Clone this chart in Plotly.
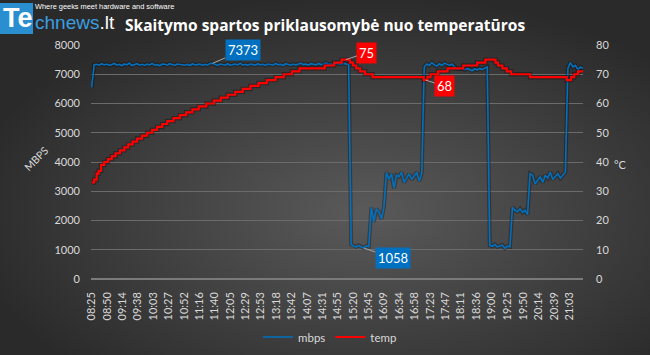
import base64
import plotly.graph_objects as go

# ---------------- data ----------------
tick_labels = ["08:25", "08:50", "09:14", "09:38", "10:03", "10:27", "10:52", "11:16",
               "11:40", "12:05", "12:29", "12:53", "13:18", "13:42", "14:07", "14:31",
               "14:55", "15:20", "15:45", "16:09", "16:34", "16:58", "17:23", "17:47",
               "18:11", "18:36", "19:00", "19:25", "19:50", "20:14", "20:39", "21:03"]

START_MIN = 8 * 60 + 25      # 08:25
SAMPLE_STEP = 4              # minutes between mbps samples

mbps_values = [
    6550, 7330,
    7340, 7310, 7360, 7320, 7350, 7300, 7330, 7370, 7310, 7340,
    7290, 7350, 7320, 7380, 7300, 7330, 7360, 7310, 7340, 7300,
    7350, 7320, 7370, 7310, 7330, 7290, 7350, 7340, 7310, 7360,
    7320, 7300, 7350, 7330, 7330, 7310, 7340, 7300, 7360, 7320,
    7330, 7350, 7300, 7340, 7310, 7370, 7373, 7330, 7300, 7350,
    7340, 7310, 7360, 7300, 7330, 7350, 7320, 7380, 7310, 7340,
    7300, 7350, 7330, 7310, 7360, 7320, 7340, 7300, 7350, 7330,
    7310, 7370, 7320, 7340, 7300, 7360, 7330, 7310, 7350, 7320,
    7340, 7380, 7330, 7350, 7310, 7360, 7340, 7320, 7370, 7330,
    7350, 7390, 7340, 7360, 7330, 7380, 7350, 7340, 7370, 7350,
    7330,
    1180, 1120, 1100, 1150, 1090, 1058, 1130, 1110,
    2450, 1950, 2400, 2300, 2050, 2450,
    3650, 3400, 3600, 3100, 3550, 3500, 3650, 3300, 3450, 3600, 3400, 3550, 3650, 3350, 3600,
    7250, 7350, 7300, 7400, 7320, 7280, 7360, 7300, 7380, 7330, 7300, 7350, 7250,
    7200, 7180, 7220, 7150, 7200, 7170, 7120, 7180, 7150, 7200, 7160, 7210, 7250,
    1150, 1120, 1180, 1100, 1130, 1160, 1050, 1120, 1100,
    2450, 2350, 2300, 2400, 2280, 2350, 2200,
    3600, 3550, 3250, 3400, 3500, 3300, 3550, 3450, 3650, 3400, 3500, 3600, 3450, 3550, 3650,
    7200, 7400, 7250, 7300, 7150, 7250, 7200,
]

temp_minutes = [0, 4, 8, 11, 15, 20, 26, 32, 38, 45, 52, 58, 65, 72, 80, 88, 96, 104, 112,
                120, 130, 140, 150, 160, 170, 182, 194, 205, 216, 228, 240, 252, 265, 278,
                292, 305, 318, 330, 370, 385, 397, 410, 415, 420, 426, 434, 446, 527, 533,
                538, 550, 565, 590, 612, 625, 641, 645, 652, 659, 666, 696, 754, 761, 766,
                772, 780]
temp_values = [33, 34, 36, 37, 39, 40, 41, 42, 43, 44, 45, 46, 47, 48, 49, 50, 51, 52, 53,
               54, 55, 56, 57, 58, 59, 60, 61, 62, 63, 64, 65, 66, 67, 68,
               69, 70, 71, 72, 73, 74, 75, 74, 73, 72, 71, 70, 69, 68, 69,
               70, 71, 72, 73, 74, 75, 74, 73, 72, 71, 70, 69, 68, 69, 70,
               71, 71]

# ---------------- derived ----------------
def hm_to_min(s):
    h, m = s.split(":")
    return int(h) * 60 + int(m) - START_MIN

tick_vals = [hm_to_min(s) for s in tick_labels]
mbps_minutes = [i * SAMPLE_STEP for i in range(len(mbps_values))]

W, H = 650, 355
ML, MR, MT, MB = 91, 67, 45, 76
PW, PH = W - ML - MR, H - MT - MB

def px(x):
    return (x - ML) / PW

def py(y):
    return (H - MB - y) / PH

BLUE = "#0070C0"
RED = "#FF0000"
FONT = "Lato"
TXT = "#d9d9d9"

fig = go.Figure()

# subtle shadows
fig.add_trace(go.Scatter(x=mbps_minutes, y=mbps_values, mode="lines",
                         line=dict(color="rgba(0,0,0,0.3)", width=4),
                         hoverinfo="skip", showlegend=False))
fig.add_trace(go.Scatter(x=temp_minutes, y=temp_values, mode="lines", yaxis="y2",
                         line=dict(color="rgba(0,0,0,0.3)", width=4.5, shape="hv"),
                         hoverinfo="skip", showlegend=False))

fig.add_trace(go.Scatter(x=mbps_minutes, y=mbps_values, mode="lines", name="mbps",
                         line=dict(color=BLUE, width=1.6)))
fig.add_trace(go.Scatter(x=temp_minutes, y=temp_values, mode="lines", name="temp",
                         yaxis="y2", line=dict(color=RED, width=2.2, shape="hv")))

# background gradient
svg = (f"<svg xmlns='http://www.w3.org/2000/svg' width='{W}' height='{H}'>"
       "<defs><radialGradient id='g' cx='0.56' cy='0.6' r='0.62'>"
       "<stop offset='0' stop-color='#5a5a5a'/><stop offset='1' stop-color='#2a2a2a'/>"
       "</radialGradient></defs>"
       f"<rect width='{W}' height='{H}' fill='url(#g)'/></svg>")
src = "data:image/svg+xml;base64," + base64.b64encode(svg.encode()).decode()

annotations = []

def callout(xv, yv, text, color, ax, ay, yref="y"):
    annotations.append(dict(x=xv, y=yv, xref="x", yref=yref, text=text, showarrow=True,
                            arrowhead=0, arrowwidth=1, arrowcolor="#a6a6a6", ax=ax, ay=ay,
                            bgcolor=color, borderpad=2,
                            font=dict(family=FONT, size=13, color="white")))

i7373 = mbps_values.index(7373)
callout(mbps_minutes[i7373], mbps_values[i7373], "7373", BLUE, 30, -13)
i1058 = mbps_values.index(1058)
callout(mbps_minutes[i1058], mbps_values[i1058], "1058", BLUE, 29, 10)
i75 = temp_values.index(75)
callout((temp_minutes[i75] + temp_minutes[i75 + 1]) / 2, 75, "75", RED, 21, -7, "y2")
i68 = temp_values.index(68, i75)
callout((temp_minutes[i68] + temp_minutes[i68 + 1]) / 2, 68, "68", RED, 19, 6, "y2")

# axis titles
annotations.append(dict(x=px(36), y=py(159), xref="paper", yref="paper", text="MBPS",
                        xanchor="center", yanchor="middle",
                        showarrow=False, textangle=-45,
                        font=dict(family=FONT, size=10.5, color=TXT)))
annotations.append(dict(x=px(620), y=py(164), xref="paper", yref="paper", text="°C",
                        xanchor="center", yanchor="middle",
                        showarrow=False, font=dict(family=FONT, size=11, color=TXT)))

# logo + title
annotations.append(dict(x=px(1), y=py(18), xref="paper", yref="paper", text="<b>Te</b>",
                        xanchor="left", yanchor="middle", showarrow=False,
                        font=dict(family="Liberation Sans", size=27, color="white")))
annotations.append(dict(x=px(33), y=py(23), xref="paper", yref="paper",
                        text="chnews<span style='color:white'>.lt</span>",
                        xanchor="left", yanchor="middle", showarrow=False,
                        font=dict(family="Liberation Sans", size=19, color="#3a9ee0")))
annotations.append(dict(x=px(33), y=py(7), xref="paper", yref="paper",
                        text="Where geeks meet hardware and software",
                        xanchor="left", yanchor="middle", showarrow=False,
                        font=dict(family="Liberation Sans Narrow, Liberation Sans", size=7.4, color="white")))
annotations.append(dict(x=px(123), y=py(25), xref="paper", yref="paper",
                        text="<b>Skaitymo spartos priklausomybė nuo temperatūros</b>",
                        xanchor="left", yanchor="middle", showarrow=False,
                        font=dict(family="Open Sans", size=15.5, color="white")))

shapes = [dict(type="rect", xref="paper", yref="paper", x0=px(0), x1=px(33),
               y0=py(34), y1=py(3), fillcolor="#2a8fd0", line=dict(width=0), layer="below")]

fig.update_layout(
    width=W, height=H,
    margin=dict(l=ML, r=MR, t=MT, b=MB, autoexpand=False),
    paper_bgcolor="#2e2e2e", plot_bgcolor="rgba(0,0,0,0)",
    images=[dict(source=src, xref="paper", yref="paper", x=px(0), y=py(0),
                 sizex=W / PW, sizey=H / PH, sizing="stretch", layer="below",
                 xanchor="left", yanchor="top")],
    shapes=shapes,
    annotations=annotations,
    font=dict(family=FONT, size=11, color=TXT),
    showlegend=True,
    legend=dict(orientation="h", x=px(330), y=py(337), xanchor="center", yanchor="middle",
                font=dict(family=FONT, size=11.5, color=TXT), bgcolor="rgba(0,0,0,0)",
                itemwidth=30),
    xaxis=dict(range=[-1, 780], tickvals=tick_vals, ticktext=tick_labels, tickangle=-90,
               showgrid=False, zeroline=False, showline=False, ticks="", automargin=False,
               ticklabelstandoff=10, tickfont=dict(family=FONT, size=11, color=TXT)),
    yaxis=dict(range=[0, 8000], dtick=1000, showgrid=True, gridcolor="#6b6b6b", gridwidth=1,
               zeroline=True, zerolinecolor="#7a7a7a", showline=False, ticks="",
               automargin=False,
               ticklabelstandoff=10, tickfont=dict(family=FONT, size=11, color=TXT)),
    yaxis2=dict(range=[0, 80], dtick=10, overlaying="y", side="right", showgrid=False,
                zeroline=False, showline=False, ticks="", ticklabelstandoff=12,
                automargin=False,
                tickfont=dict(family=FONT, size=11, color=TXT)),
)

fig.write_html("out.html", config={"displayModeBar": False},
               post_script="document.body.style.margin='0';document.body.style.background='#2e2e2e';")
